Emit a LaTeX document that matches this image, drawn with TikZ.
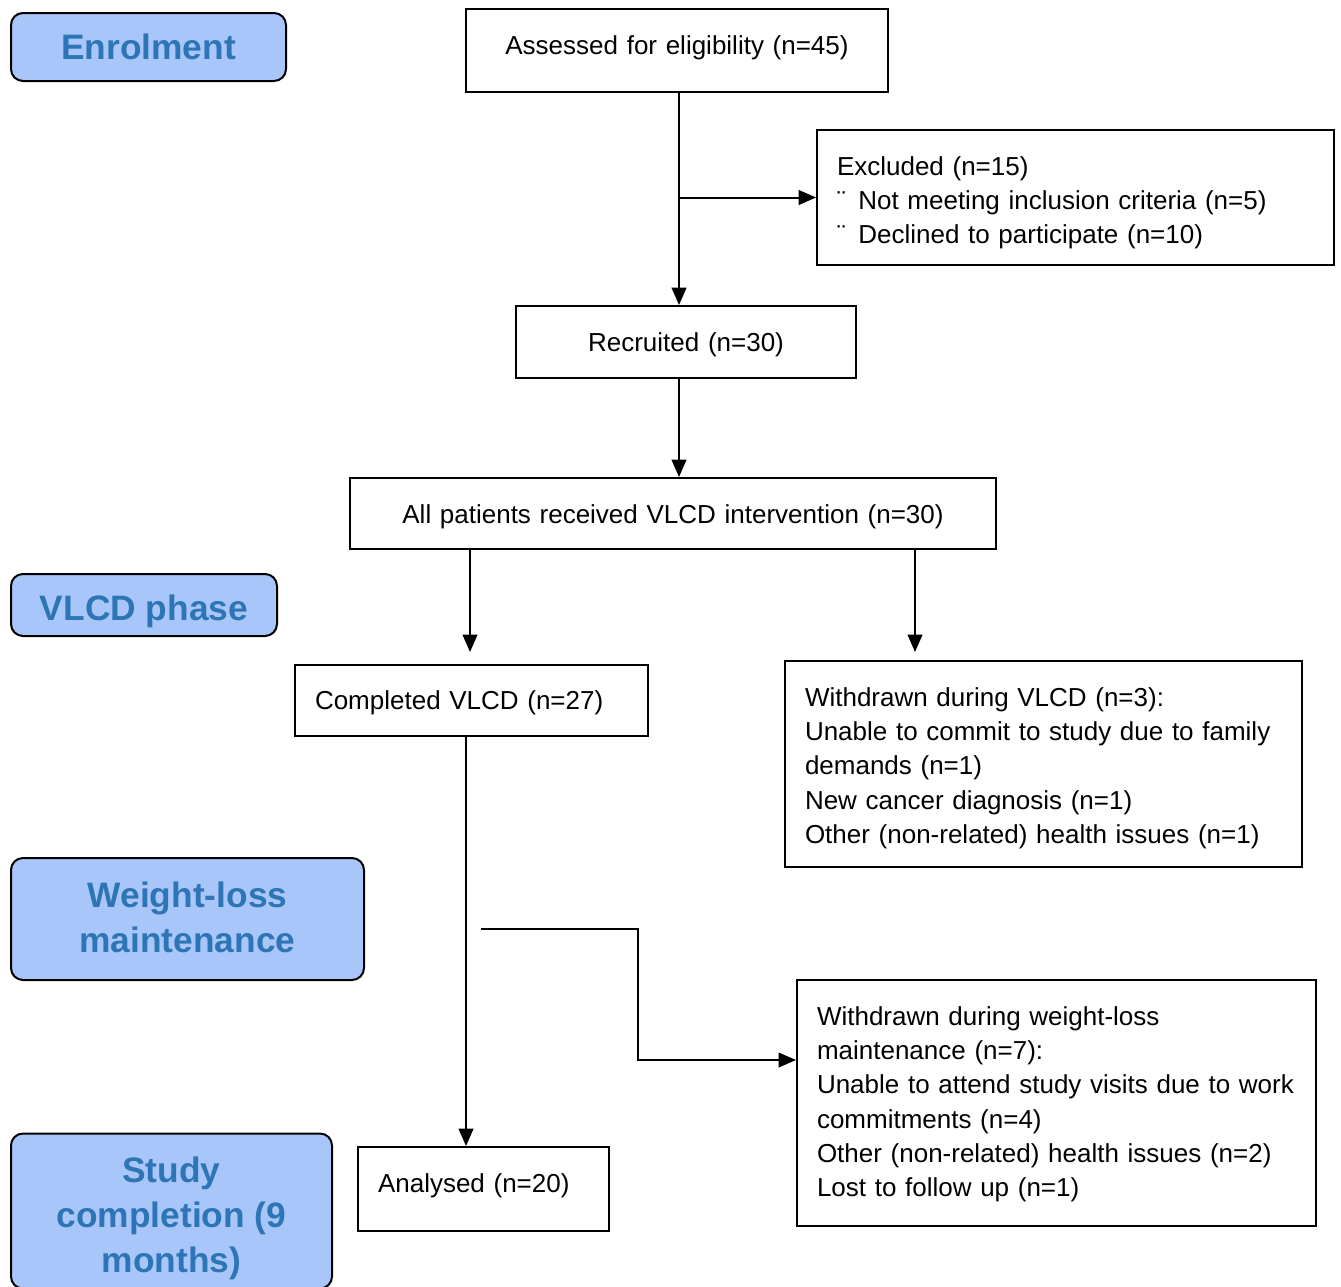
\documentclass[tikz,border=0pt]{standalone}
\usepackage{fontspec}
\setmainfont{Liberation Sans}
\usetikzlibrary{arrows.meta,calc}
\definecolor{lblfill}{HTML}{A8C6FA}
\definecolor{lbltext}{HTML}{2E75B6}
\newcommand{\shl}[2]{\raisebox{#1}[\height][\depth]{\begin{tabular}{@{}l@{}}#2\end{tabular}}}
\newcommand{\shc}[2]{\raisebox{#1}[\height][\depth]{\begin{tabular}{@{}c@{}}#2\end{tabular}}}
\begin{document}
\begin{tikzpicture}[x=0.75pt,y=-0.75pt,
  box/.style={draw=black,line width=1.5pt,inner ysep=0pt,inner xsep=15pt,
    font=\fontsize{19.5}{25.7}\selectfont},
  lbox/.style={box,align=left},
  cbox/.style={box,align=center},
  lbl/.style={draw=black,line width=1.5pt,rounded corners=9pt,fill=lblfill,
    text=lbltext,align=center,inner sep=0pt,
    font=\fontsize{26.5}{33.75}\selectfont\bfseries},
  arr/.style={line width=1.5pt,-{Triangle[length=13pt,width=11pt]}},
  arrthin/.style={line width=1pt,-{Triangle[length=13pt,width=11pt]}}]
\useasboundingbox (0,0) rectangle (1341,1286);

% stage labels
\node[lbl,minimum width=206.25pt,minimum height=51pt] (enrol) at (148.5,47) {Enrolment};
\node[lbl,minimum width=199.5pt,minimum height=46.5pt] (vlcdl) at (144,605) {\shc{-4.5pt}{VLCD phase}};
\node[lbl,minimum width=264.75pt,minimum height=91.5pt] (wlml) at (187.5,919) {\shc{-1.5pt}{Weight-loss\\maintenance}};
\node[lbl,minimum width=240.75pt,minimum height=116.25pt] (studyl) at (171.5,1211) {\shc{-5.25pt}{Study\\completion (9\\months)}};

% flow boxes
\node[cbox,text width=286.5pt,minimum height=62.25pt] (assess) at (677,50.5) {\shc{2.25pt}{Assessed for eligibility (n=45)}};
\node[lbox,text width=357.75pt,minimum height=101.25pt] (excl) at (1075.5,197.5)
  {\shl{-3.75pt}{Excluded (n=15)\\\makebox[16pt][l]{¨}Not meeting inclusion criteria (n=5)\\\makebox[16pt][l]{¨}Declined to participate (n=10)}};
\node[cbox,text width=225pt,minimum height=54pt] (recr) at (686,342) {\shc{-2.25pt}{Recruited (n=30)}};
\node[cbox,text width=454.5pt,minimum height=53.25pt] (allp) at (673,513.5) {\shc{-2.25pt}{All patients received VLCD intervention (n=30)}};
\node[lbox,text width=234.75pt,minimum height=53.25pt] (comp) at (471.5,700.5) {\shl{-1.5pt}{Completed VLCD (n=27)}};
\node[lbox,text width=357.75pt,minimum height=154.5pt] (wvlcd) at (1043.5,764)
  {\shl{-3pt}{Withdrawn during VLCD (n=3):\\Unable to commit to study due to family\\demands (n=1)\\New cancer diagnosis (n=1)\\Other (non-related) health issues (n=1)}};
\node[lbox,text width=158.25pt,minimum height=63pt] (anal) at (483.5,1189) {\shl{2.25pt}{Analysed (n=20)}};
\node[lbox,text width=359.25pt,minimum height=184.5pt] (wwlm) at (1056.5,1103)
  {\shl{-0.75pt}{Withdrawn during weight-loss\\maintenance (n=7):\\Unable to attend study visits due to work\\commitments (n=4)\\Other (non-related) health issues (n=2)\\Lost to follow up (n=1)}};

% connectors
\coordinate (ax) at (679,0);
\draw[arr] (assess.south -| ax) -- (recr.north -| ax);
\draw[arr] (excl.west -| ax) -- (excl.west);
\draw[arr] (recr.south -| ax) -- (allp.north -| ax);
\coordinate (c1) at (470,652);
\coordinate (c2) at (915,652);
\draw[arr] (allp.south -| c1) -- (c1);
\draw[arr] (allp.south -| c2) -- (c2);
\coordinate (c3) at (466,0);
\draw[arr] (comp.south -| c3) -- (anal.north -| c3);
\coordinate (e0) at (481,929);
\coordinate (e1) at (638,929);
\coordinate (e2) at (638,1060);
\draw[arrthin] (e0) -- (e1) -- (e2) -- (wwlm.west |- e2);
\end{tikzpicture}
\end{document}
